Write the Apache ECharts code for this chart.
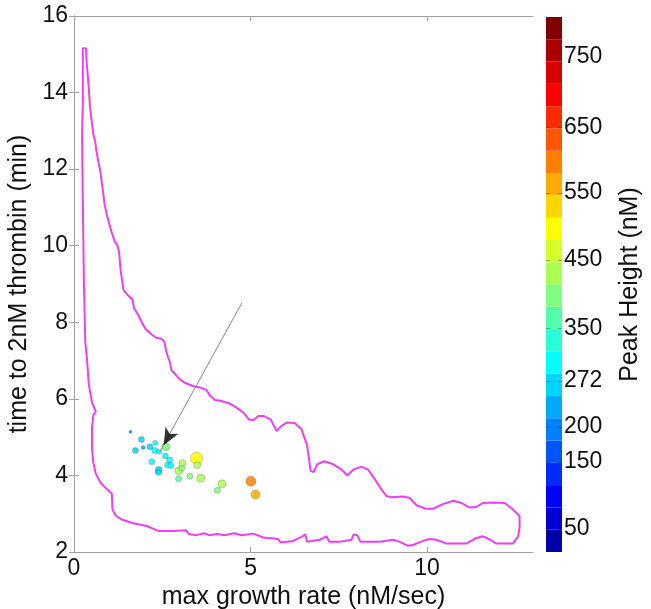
<!DOCTYPE html>
<html>
<head>
<meta charset="utf-8">
<script src="https://cdn.jsdelivr.net/npm/echarts@6.0.0/dist/echarts.min.js"></script>
<style>
html, body { margin: 0; padding: 0; background: #fff; }
#chart { width: 651px; height: 609px; }
</style>
</head>
<body>
<div id="chart"></div>
<script>
// scatter points: max growth rate, time to 2nM, peak height, marker size
var growthRate = [1.60, 1.91, 1.74, 1.96, 2.15, 2.30, 2.29, 2.41, 2.60, 2.59, 2.20, 2.71, 2.65, 2.74,
                  2.40, 2.39, 3.07, 2.97, 3.05, 2.96, 3.28, 3.59, 3.47, 3.49, 4.19, 4.06, 5.01, 5.14];
var timeTo2nM  = [5.14, 4.94, 4.65, 4.73, 4.75, 4.85, 4.65, 4.62, 4.75, 4.51, 4.36, 4.40, 4.27, 4.26,
                  4.14, 4.08, 4.32, 4.12, 4.19, 3.91, 3.98, 3.93, 4.45, 4.27, 3.78, 3.61, 3.85, 3.50];
var peakHeight = [190, 265, 262, 230, 280, 292, 290, 295, 400, 300, 290, 300, 302, 310,
                  280, 270, 420, 415, 400, 360, 410, 415, 500, 425, 425, 400, 600, 560];
var markerSize = [3, 6, 6, 4, 6, 5, 6, 5, 8, 6, 6, 6, 6, 6,
                  7, 6, 7, 8, 6, 6, 6, 8, 12, 7, 8, 6, 10, 9];

// magenta contour
var contourX = [0.34, 0.25, 0.25, 0.23, 0.23, 0.25, 0.28, 0.32, 0.36, 0.42, 0.51, 0.62, 0.55, 0.51, 0.51, 0.55,
  0.62, 0.75, 0.92, 1.07, 1.09, 1.19, 1.35, 1.68, 2.06, 2.39, 2.81, 3.17, 3.25, 3.47, 3.68, 3.83, 4.04, 4.27,
  4.53, 4.75, 5.08, 5.36, 5.78, 5.85, 6.21, 6.47, 6.55, 6.60, 6.96, 7.15, 7.23, 7.53, 7.86, 7.92, 8.02, 8.11,
  8.66, 9.04, 9.21, 9.46, 9.62, 9.89, 10.06, 10.26, 10.55, 11.11, 11.38, 11.58, 11.79, 11.96, 12.43, 12.58,
  12.62, 12.62, 12.43, 12.20, 11.87, 11.58, 11.40, 11.21, 10.97, 10.74, 10.45, 10.17, 9.96, 9.70, 9.51, 9.32,
  8.99, 8.85, 8.68, 8.52, 8.33, 8.14, 7.91, 7.74, 7.58, 7.32, 7.08, 6.89, 6.79, 6.70, 6.66, 6.60, 6.44, 6.25,
  6.02, 5.85, 5.74, 5.66, 5.57, 5.38, 5.22, 5.08, 4.96, 4.81, 4.60, 4.40, 4.15, 3.99, 3.85, 3.75, 3.57, 3.38,
  3.14, 3.02, 2.86, 2.76, 2.72, 2.62, 2.56, 2.48, 2.34, 2.20, 2.03, 1.94, 1.82, 1.70, 1.66, 1.49, 1.40, 1.32,
  1.28, 1.23, 1.16, 1.07, 1.00, 0.92, 0.87, 0.81, 0.75, 0.69, 0.64, 0.60, 0.55, 0.51, 0.45, 0.42, 0.36, 0.34];
var contourY = [15.16, 15.16, 13.74, 13.00, 12.72, 11.13, 9.08, 7.49, 7.12, 6.37, 5.91, 5.67, 5.58, 5.25, 4.69, 4.32,
  4.04, 3.81, 3.65, 3.53, 3.11, 2.94, 2.85, 2.75, 2.68, 2.55, 2.55, 2.57, 2.47, 2.44, 2.49, 2.44, 2.47, 2.44,
  2.49, 2.44, 2.48, 2.38, 2.34, 2.25, 2.29, 2.41, 2.46, 2.27, 2.32, 2.41, 2.27, 2.27, 2.32, 2.46, 2.44, 2.27,
  2.27, 2.32, 2.27, 2.16, 2.19, 2.29, 2.34, 2.32, 2.22, 2.22, 2.36, 2.41, 2.32, 2.22, 2.22, 2.41,
  2.64, 2.94, 3.11, 3.28, 3.29, 3.28, 3.18, 3.16, 3.28, 3.34, 3.25, 3.13, 3.13, 3.22, 3.41, 3.45,
  3.43, 3.46, 3.67, 3.90, 4.15, 4.23, 4.15, 4.00, 4.15, 4.30, 4.37, 4.29, 4.09, 4.12, 4.41, 4.79, 5.21, 5.37,
  5.38, 5.27, 5.16, 5.30, 5.46, 5.55, 5.55, 5.44, 5.46, 5.63, 5.77, 5.88, 5.95, 5.97, 6.09, 6.23, 6.30, 6.33,
  6.42, 6.49, 6.65, 6.75, 6.95, 7.21, 7.49, 7.57, 7.59, 7.68, 7.82, 7.96, 8.19, 8.37, 8.59, 8.74, 8.85, 9.36,
  9.81, 10.01, 10.10, 10.34, 10.57, 10.85, 11.06, 11.50, 11.92, 12.20, 12.44, 12.72, 12.90, 13.18, 13.65, 14.12, 14.77, 15.16];

// annotation arrow
var arrowX = [4.75, 2.42];
var arrowY = [8.50, 4.60];
var arrowHead = [2.54, 4.79];

// colorbar tick labels and their position along the bar (0 = bottom, 1 = top)
var cbarTicks = [50, 150, 200, 272, 350, 450, 550, 650, 750];
var cbarTickPos = [0.043, 0.168, 0.234, 0.320, 0.418, 0.546, 0.671, 0.794, 0.925];
var nBands = 24;

var FONT = 'Liberation Sans, Arial, sans-serif';

// matlab style jet colormap
function jet(m) {
    var n = Math.ceil(m / 4);
    var u = [];
    var i;
    for (i = 1; i <= n; i++) u.push(i / n);
    for (i = 1; i < n; i++) u.push(1);
    for (i = n; i >= 1; i--) u.push(i / n);
    var g0 = Math.ceil(n / 2) - (m % 4 == 1 ? 1 : 0);
    var map = [];
    for (i = 0; i < m; i++) map.push([0, 0, 0]);
    for (var k = 0; k < u.length; k++) {
        var g = g0 + k + 1, r = g + n, b = g - n;
        if (r >= 1 && r <= m) map[r - 1][0] = u[k];
        if (g >= 1 && g <= m) map[g - 1][1] = u[k];
        if (b >= 1 && b <= m) map[b - 1][2] = u[k];
    }
    return map.map(function (c) {
        return 'rgb(' + c.map(function (v) { return Math.round(v * 255); }).join(',') + ')';
    });
}
var jetColors = jet(nBands);

function peakToPos(v) {
    if (v <= cbarTicks[0]) return cbarTickPos[0] * v / cbarTicks[0];
    for (var i = 1; i < cbarTicks.length; i++) {
        if (v <= cbarTicks[i]) {
            var f = (v - cbarTicks[i - 1]) / (cbarTicks[i] - cbarTicks[i - 1]);
            return cbarTickPos[i - 1] + f * (cbarTickPos[i] - cbarTickPos[i - 1]);
        }
    }
    return 1;
}
function peakColor(v) {
    var j = Math.min(nBands - 1, Math.floor(peakToPos(v) * nBands));
    return jetColors[j];
}

var points = growthRate.map(function (x, i) {
    return [x, timeTo2nM[i], peakHeight[i], markerSize[i]];
});
var contour = contourX.map(function (x, i) { return [x, contourY[i]]; });

var axisGray = '#a0a0a0';
var labelStyle = { color: '#111', fontSize: 23, fontFamily: FONT };
var nameStyle = { color: '#111', fontSize: 25, fontFamily: FONT };

var cbarSeries = jetColors.map(function (c, i) {
    return {
        type: 'bar', xAxisIndex: 2, yAxisIndex: 2, stack: 'cb',
        data: [1 / nBands], barWidth: '100%', silent: true,
        itemStyle: { color: c }
    };
});

var myChart = echarts.init(document.getElementById('chart'), null, { renderer: 'canvas' });
myChart.setOption({
    animation: false,
    backgroundColor: '#fff',
    textStyle: { fontFamily: FONT },
    grid: [
        { left: 74, right: 118, top: 16, bottom: 57, containLabel: false, outerBoundsMode: 'none' },
        { left: 546, width: 16, top: 17, bottom: 57, containLabel: false, outerBoundsMode: 'none' }
    ],
    xAxis: [
        {
            gridIndex: 0, type: 'value', min: 0, max: 13, interval: 5,
            name: 'max growth rate (nM/sec)', nameLocation: 'middle', nameGap: 25,
            nameTextStyle: nameStyle,
            axisLine: { lineStyle: { color: axisGray } },
            axisTick: { inside: true, length: 5, customValues: [0, 5, 10], lineStyle: { color: axisGray } },
            axisLabel: Object.assign({ margin: 5, customValues: [0, 5, 10] }, labelStyle),
            splitLine: { show: false }
        },
        {
            gridIndex: 0, type: 'value', position: 'top', min: 0, max: 13, interval: 5,
            axisLine: { lineStyle: { color: axisGray } },
            axisTick: { inside: true, length: 5, customValues: [0, 5, 10], lineStyle: { color: axisGray } },
            axisLabel: { show: false },
            splitLine: { show: false }
        },
        {
            gridIndex: 1, type: 'category', data: ['cb'],
            axisLine: { show: false }, axisTick: { show: false }, axisLabel: { show: false }
        }
    ],
    yAxis: [
        {
            gridIndex: 0, type: 'value', min: 2, max: 16, interval: 2,
            name: 'time to 2nM thrombin (min)', nameLocation: 'middle', nameGap: 30,
            nameTextStyle: nameStyle,
            axisLine: { show: true, lineStyle: { color: axisGray } },
            axisTick: { show: true, inside: true, length: 5, lineStyle: { color: axisGray } },
            axisLabel: Object.assign({ margin: 6 }, labelStyle),
            splitLine: { show: false }
        },
        {
            gridIndex: 0, type: 'value', position: 'right', min: 2, max: 16, interval: 2,
            axisLine: { show: true, lineStyle: { color: axisGray } },
            axisTick: { show: true, inside: true, length: 5, lineStyle: { color: axisGray } },
            axisLabel: { show: false },
            splitLine: { show: false }
        },
        {
            gridIndex: 1, type: 'value', position: 'right', min: 0, max: 1, z: 10,
            name: 'Peak Height (nM)', nameLocation: 'middle', nameGap: 56, nameRotate: 90,
            nameTextStyle: nameStyle,
            axisLine: { show: false },
            axisTick: {
                show: true, inside: true, length: 16, customValues: cbarTickPos,
                lineStyle: { color: 'rgba(0,0,0,0.3)', type: [4, 8] }
            },
            axisLabel: Object.assign({
                margin: 2, customValues: cbarTickPos,
                formatter: function (v) {
                    for (var i = 0; i < cbarTickPos.length; i++) {
                        if (Math.abs(cbarTickPos[i] - v) < 1e-6) return String(cbarTicks[i]);
                    }
                    return '';
                }
            }, labelStyle),
            splitLine: { show: false }
        }
    ],
    series: [
        {
            name: 'contour', type: 'line', xAxisIndex: 0, yAxisIndex: 0,
            data: contour, showSymbol: false, smooth: false, silent: true,
            lineStyle: { color: '#ee3ff0', width: 2 }, z: 2
        },
        {
            name: 'peaks', type: 'scatter', xAxisIndex: 0, yAxisIndex: 0,
            data: points,
            symbolSize: function (d) { return d[3]; },
            itemStyle: {
                color: function (p) { return peakColor(p.data[2]); },
                opacity: 0.85,
                borderColor: 'rgba(70,70,70,0.45)',
                borderWidth: 0.7
            },
            z: 3
        },
        {
            name: 'arrow', type: 'line', xAxisIndex: 0, yAxisIndex: 0,
            data: [[arrowX[0], arrowY[0]], [arrowX[1], arrowY[1]]],
            showSymbol: false, silent: true,
            lineStyle: { color: '#8a8a8a', width: 1 }, z: 4
        },
        {
            name: 'arrowHead', type: 'scatter', xAxisIndex: 0, yAxisIndex: 0,
            data: [arrowHead], symbol: 'arrow', symbolSize: [11, 17], symbolRotate: 151,
            silent: true, itemStyle: { color: '#000' }, z: 5
        }
    ].concat(cbarSeries)
});
</script>
</body>
</html>
